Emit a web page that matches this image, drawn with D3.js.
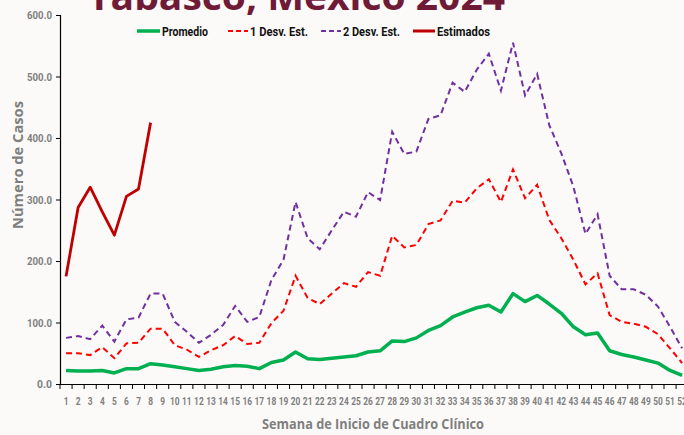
<!DOCTYPE html>
<html><head><meta charset="utf-8">
<script src="https://cdn.jsdelivr.net/npm/d3@7"></script>
<style>
html,body{margin:0;padding:0;background:#fbfaf8;}
svg{display:block;}
</style></head>
<body>
<svg id="chart" width="684" height="435"></svg>
<script>
const weeks = d3.range(1, 53);
const promedio = [22,21,21,22,18,25,25,33,31,28,25,22,24,28,30,29,25,35,39,52,41,40,42,44,46,52,54,70,69,75,87,95,109,117,124,128,117,147,134,144,130,115,93,80,83,54,48,44,39,34,22,14];
const desv1 = [50,50,47,60,42,66,67,90,90,63,56,44,55,63,78,65,67,99,119,176,140,130,147,164,158,182,176,241,222,226,260,266,298,295,318,333,296,349,302,324,267,237,202,162,180,112,101,98,93,81,58,34];
const desv2 = [75,78,73,95,69,105,108,147,147,101,85,67,80,96,127,101,109,169,202,296,237,219,250,280,272,312,299,410,374,378,431,437,490,475,511,537,477,555,469,504,421,375,321,244,276,176,154,154,145,126,93,58];
const estWeeks = [1,2,3,4,5,6,7,8];
const estimados = [175,287,320,280,242,305,317,425];
const yTicks = [0,100,200,300,400,500,600];

const svg = d3.select("#chart");
const W = 684, H = 435;
svg.append("rect").attr("width", W).attr("height", H).attr("fill", "#fbfaf8");

const x = d3.scaleBand().domain(weeks).range([60, 60 + 52 * 12.08]).padding(0);
const y = d3.scaleLinear().domain([0, 600]).range([384, 15]);
const cx = d => x(d) + x.bandwidth() / 2;

// Title (cut off at top)
svg.append("text").attr("x", 88).attr("y", 10)
  .attr("font-family", "'Open Sans', sans-serif").attr("font-weight", 700)
  .attr("font-size", 38).attr("fill", "#6f1b37")
  .attr("textLength", 417).attr("lengthAdjust", "spacingAndGlyphs")
  .text("Tabasco, México 2024");

const narrow = "'Roboto', 'Liberation Sans', sans-serif";

// Y axis
const yAxis = d3.axisLeft(y).tickValues(yTicks).tickFormat(d3.format(".1f")).tickSize(4).tickPadding(4);
const gy = svg.append("g").attr("transform", "translate(60,0)").call(yAxis);
gy.select(".domain").attr("stroke", "#000").attr("stroke-width", 1.2);
gy.selectAll(".tick line").attr("stroke", "#000");
gy.selectAll("text").attr("font-family", narrow)
  .attr("font-weight", "bold").attr("font-size", 11.5).attr("fill", "#7f7f7f")
  .attr("textLength", function() { return this.textContent.length * 5; })
  .attr("lengthAdjust", "spacingAndGlyphs");

// X axis
const xAxis = d3.axisBottom(x).tickSize(0).tickPadding(13);
const gx = svg.append("g").attr("transform", "translate(0,384)").call(xAxis);
gx.select(".domain").attr("stroke", "#000").attr("stroke-width", 1.2);
gx.selectAll("text").attr("font-family", narrow)
  .attr("font-weight", "bold").attr("font-size", 11.5).attr("fill", "#7f7f7f")
  .attr("textLength", function() { return this.textContent.length * 4.8; })
  .attr("lengthAdjust", "spacingAndGlyphs");
// boundary tick marks
gx.selectAll(".btick").data(weeks).enter().append("line")
  .attr("x1", d => x(d)).attr("x2", d => x(d)).attr("y1", 0).attr("y2", 5)
  .attr("stroke", "#000").attr("stroke-width", 1);

// Axis titles
svg.append("text").attr("x", 373).attr("y", 429).attr("text-anchor", "middle")
  .attr("font-family", "'Open Sans', sans-serif").attr("font-weight", "bold")
  .attr("font-size", 14).attr("fill", "#7f7f7f")
  .attr("textLength", 222).attr("lengthAdjust", "spacingAndGlyphs")
  .text("Semana de Inicio de Cuadro Clínico");
svg.append("text").attr("transform", "translate(23,165) rotate(-90)").attr("text-anchor", "middle")
  .attr("font-family", "'Open Sans', sans-serif").attr("font-weight", "bold")
  .attr("font-size", 14).attr("fill", "#7f7f7f")
  .attr("textLength", 128).attr("lengthAdjust", "spacingAndGlyphs")
  .text("Número de Casos");

// Lines
const line = d3.line().x((d, i) => cx(weeks[i])).y(d => y(d));
const lineEst = d3.line().x((d, i) => cx(estWeeks[i])).y(d => y(d));

svg.append("path").datum(desv2).attr("d", line).attr("fill", "none")
  .attr("stroke", "#7030a0").attr("stroke-width", 2).attr("stroke-dasharray", "6,4");
svg.append("path").datum(desv1).attr("d", line).attr("fill", "none")
  .attr("stroke", "#ff0000").attr("stroke-width", 2).attr("stroke-dasharray", "6,4");
svg.append("path").datum(promedio).attr("d", line).attr("fill", "none")
  .attr("stroke", "#00b050").attr("stroke-width", 3.5).attr("stroke-linejoin", "round");
svg.append("path").datum(estimados).attr("d", lineEst).attr("fill", "none")
  .attr("stroke", "#c00000").attr("stroke-width", 2.8).attr("stroke-linejoin", "round");

// Legend
const legend = [
  {name: "Promedio", color: "#00b050", dash: null, w: 3.5, x1: 137, x2: 160, tx: 162, tl: 46},
  {name: "1 Desv. Est.", color: "#ff0000", dash: "5,3", w: 2, x1: 228, x2: 248, tx: 250, tl: 58},
  {name: "2 Desv. Est.", color: "#7030a0", dash: "5,3", w: 2, x1: 321, x2: 341, tx: 343, tl: 57},
  {name: "Estimados", color: "#c00000", dash: null, w: 3, x1: 413, x2: 435, tx: 437, tl: 53}
];
const lg = svg.append("g");
legend.forEach(l => {
  lg.append("line").attr("x1", l.x1).attr("x2", l.x2).attr("y1", 31).attr("y2", 31)
    .attr("stroke", l.color).attr("stroke-width", l.w).attr("stroke-dasharray", l.dash);
  lg.append("text").attr("x", l.tx).attr("y", 36)
    .attr("font-family", narrow).attr("font-weight", "bold")
    .attr("font-size", 13).attr("fill", "#111")
    .attr("textLength", l.tl).attr("lengthAdjust", "spacingAndGlyphs")
    .text(l.name);
});
</script>
</body></html>
